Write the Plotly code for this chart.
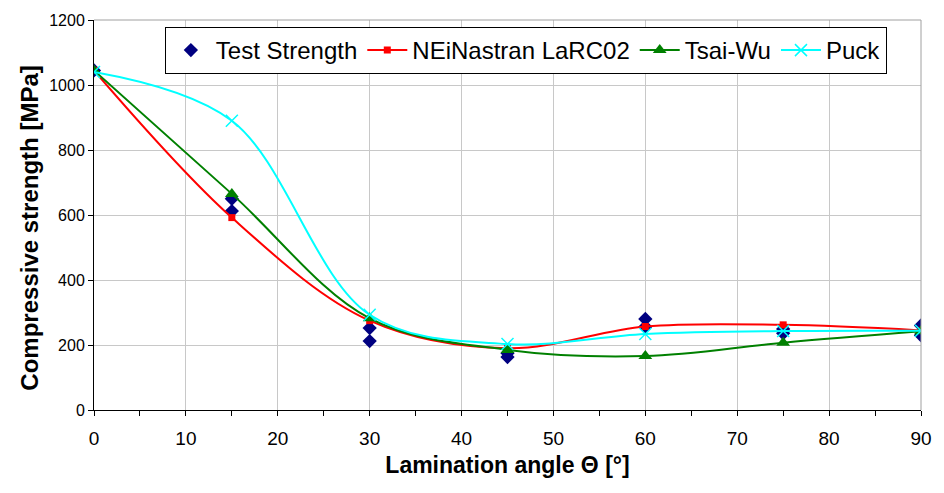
import plotly.graph_objects as go

angles = [0, 15, 30, 45, 60, 75, 90]

test_x = [0, 15, 15, 30, 30, 45, 45, 60, 60, 75, 75, 90, 90]
test_y = [1045, 612, 650, 252, 212, 175, 163, 280, 256, 249, 236, 260, 230]

larc02 = [1045, 592, 275, 190, 257, 262, 245]
tsaiwu = [1045, 665, 282, 185, 166, 207, 242]
puck = [1040, 890, 293, 203, 234, 243, 244]

x_ticks = [0, 10, 20, 30, 40, 50, 60, 70, 80, 90]
y_ticks = [0, 200, 400, 600, 800, 1000, 1200]

font_family = "Liberation Sans, Arial, sans-serif"

fig = go.Figure()

fig.add_trace(go.Scatter(
    x=test_x, y=test_y, mode="markers", name="Test Strength",
    marker=dict(symbol="diamond", size=11, color="#000080"),
))
fig.add_trace(go.Scatter(
    x=angles, y=larc02, mode="lines+markers", name="NEiNastran LaRC02",
    line=dict(color="#ff0000", width=2, shape="spline", smoothing=1.0),
    marker=dict(symbol="square", size=7, color="#ff0000"),
))
fig.add_trace(go.Scatter(
    x=angles, y=tsaiwu, mode="lines+markers", name="Tsai-Wu",
    line=dict(color="#008000", width=2, shape="spline", smoothing=1.0),
    marker=dict(symbol="triangle-up", size=12, color="#008000"),
))
fig.add_trace(go.Scatter(
    x=angles, y=puck, mode="lines+markers", name="Puck",
    line=dict(color="#00ffff", width=2, shape="spline", smoothing=1.0),
    marker=dict(symbol="x-thin", size=12, color="#00ffff",
                line=dict(color="#00ffff", width=1.5)),
))

fig.update_layout(
    width=944, height=493,
    margin=dict(l=94, r=22, t=15, b=83),
    paper_bgcolor="white", plot_bgcolor="white",
    font=dict(family=font_family, size=15, color="black"),
    showlegend=True,
    legend=dict(
        orientation="h", x=0.0857, y=0.982, xanchor="left", yanchor="top",
        bgcolor="white", bordercolor="black", borderwidth=1,
        font=dict(size=24, family=font_family),
        itemwidth=40, tracegroupgap=0,
    ),
    xaxis=dict(
        range=[0, 90], tickvals=x_ticks, ticktext=[str(v) for v in x_ticks],
        showgrid=True, gridcolor="#c8c8c8", gridwidth=1,
        showline=True, linecolor="black", linewidth=1, mirror=False,
        ticks="outside", ticklen=5, tickcolor="black",
        minor=dict(dtick=5, ticks="outside", ticklen=5, tickcolor="black", showgrid=False),
        zeroline=False, ticklabelstandoff=6,
        title=dict(text="<b>Lamination angle Θ [°]</b>", font=dict(size=23), standoff=9),
        tickfont=dict(size=19),
    ),
    yaxis=dict(
        range=[0, 1200], tickvals=y_ticks, ticktext=[str(v) for v in y_ticks],
        showgrid=True, gridcolor="#c8c8c8", gridwidth=1,
        showline=True, linecolor="black", linewidth=1,
        ticks="outside", ticklen=5, tickcolor="black",
        zeroline=False,
        tickfont=dict(size=16),
    ),
    annotations=[
        dict(text="<b>Compressive strength [MPa]</b>", xref="paper", yref="paper",
             x=0, y=0.465, xanchor="center", yanchor="middle", xshift=-64,
             textangle=-90, showarrow=False, font=dict(size=24)),
    ],
    shapes=[
        dict(type="line", xref="paper", yref="paper", x0=0, x1=1, y0=1, y1=1,
             line=dict(color="#a0a0a0", width=1)),
        dict(type="line", xref="paper", yref="paper", x0=1, x1=1, y0=0, y1=1,
             line=dict(color="#a0a0a0", width=1)),
    ],
)

fig.write_html("out.html", config={"displayModeBar": False},
               post_script="document.body.style.margin='0';")
